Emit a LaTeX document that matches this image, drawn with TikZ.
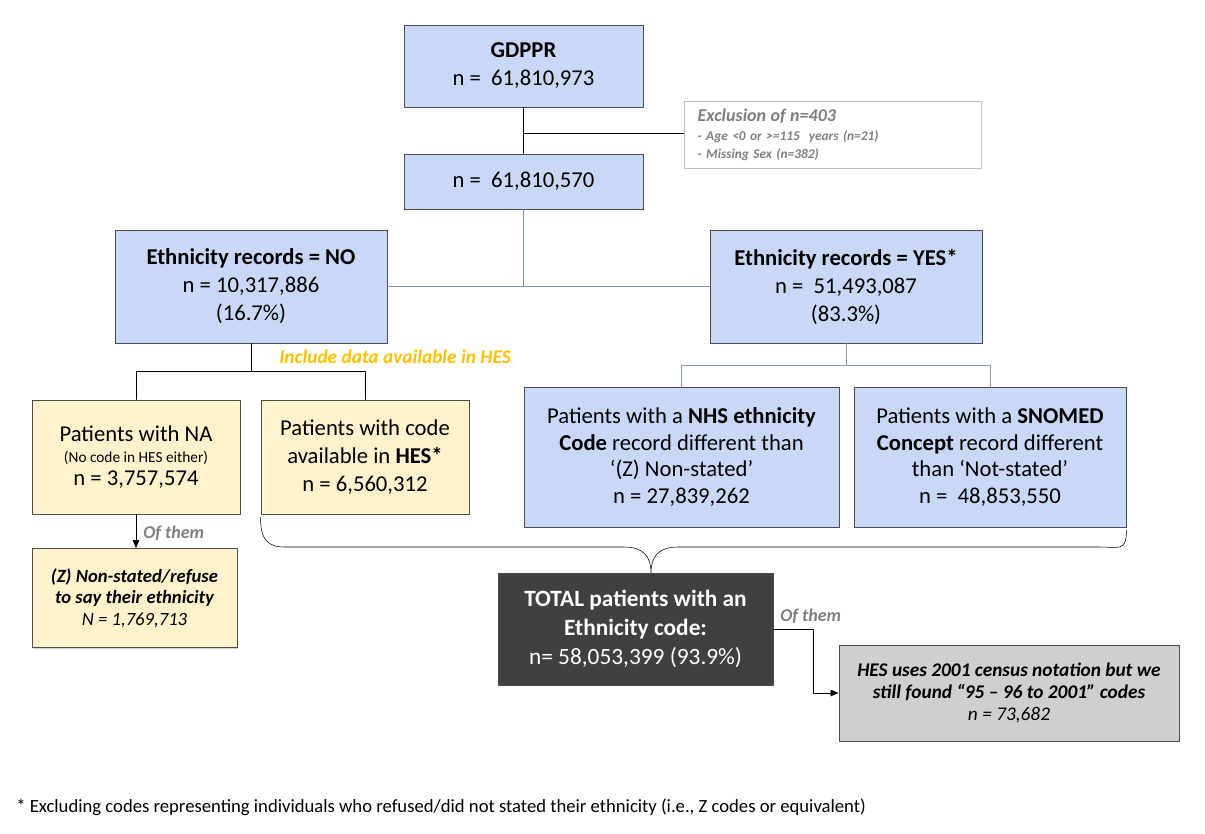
\documentclass[tikz,border=0pt]{standalone}
\usepackage{fontspec}
\setmainfont{Carlito}
\usetikzlibrary{arrows.meta,shadows}
\definecolor{boxblue}{RGB}{200,216,246}
\definecolor{boxyellow}{RGB}{255,242,204}
\definecolor{darkbox}{RGB}{64,64,64}
\definecolor{hesgray}{RGB}{208,206,206}
\definecolor{hesorange}{RGB}{255,192,0}
\definecolor{textgray}{RGB}{127,127,127}
\definecolor{exclgray}{RGB}{191,191,191}
\definecolor{linegray}{RGB}{132,151,176}
\begin{document}
\begin{tikzpicture}[x=0.75pt, y=-0.75pt, line cap=round, line join=round,
  box/.style={draw=black!70, line width=0.7pt, align=center, inner sep=0pt,
    drop shadow={shadow xshift=0.9pt, shadow yshift=-0.9pt, opacity=0.35}},
  bluebox/.style={box, fill=boxblue},
  yellowbox/.style={box, fill=boxyellow},
  main/.style={font=\fontsize{17}{21}\selectfont},
  ofthem/.style={anchor=west, inner sep=0pt, text=textgray,
    font=\fontsize{13.5}{16}\selectfont\bfseries\itshape},
  tip/.style={-{Triangle[length=6pt,width=5pt]}}]
  \useasboundingbox (0,0) rectangle (1205,833);

  % Boxes of the upper part
  \node[bluebox, main, minimum width=179.25pt, minimum height=61.5pt] (gdppr) at (523.5,66)
    {\textbf{GDPPR}\\n = \ 61,810,973};
  \node[bluebox, main, minimum width=179.25pt, minimum height=41.25pt] (ncount) at (523.5,181.5)
    {n = \ 61,810,570};
  \node[draw=exclgray, fill=white, line width=0.8pt, minimum height=50.25pt, text width=203pt,
    inner xsep=10pt, align=left, text=textgray, font=\fontsize{10}{14}\selectfont\bfseries\itshape] (excl) at (833,135)
    {{\fontsize{13.5}{14}\selectfont Exclusion of n=403}\\- Age <0 or >=115~ years (n=21)\\- Missing Sex (n=382)};

  % Ethnicity records
  \node[bluebox, main, minimum width=204pt, minimum height=84.75pt] (no) at (251,286.5)
    {\textbf{Ethnicity records = NO}\\n = 10,317,886\\(16.7\%)};
  \node[bluebox, main, minimum width=204pt, minimum height=84.75pt] (yes) at (846,286.5)
    {\textbf{Ethnicity records = YES*}\\n = \ 51,493,087\\(83.3\%)};

  % Left branch
  \node[yellowbox, minimum width=156pt, minimum height=85.5pt] (na) at (136,457)
    {{\fontsize{17}{21}\selectfont Patients with NA}\\[4pt]{\fontsize{11.5}{14}\selectfont (No code in HES either)}\\[4pt]{\fontsize{17}{21}\selectfont n = 3,757,574}};
  \node[yellowbox, main, minimum width=156pt, minimum height=85.5pt] (hescode) at (365,457)
    {Patients with code\\available in \textbf{HES*}\\n = 6,560,312};
  \node[yellowbox, minimum width=153.75pt, minimum height=74.25pt,
    font=\fontsize{14}{16}\selectfont\itshape] (zbox) at (134.5,598)
    {\textbf{(Z) Non-stated/refuse}\\\textbf{to say their ethnicity}\\N = 1,769,713};

  % Right branch
  \node[bluebox, font=\fontsize{17}{20}\selectfont, minimum width=236.25pt, minimum height=105pt] (nhs) at (681.5,457)
    {Patients with a \textbf{NHS ethnicity}\\\textbf{Code} record different than\\‘(Z) Non-stated’\\n = 27,839,262};
  \node[bluebox, font=\fontsize{17}{20}\selectfont, minimum width=204pt, minimum height=105pt] (snomed) at (990,457)
    {Patients with a \textbf{SNOMED}\\\textbf{Concept} record different\\than ‘Not-stated’\\n = \ 48,853,550};

  % Total
  \node[box, fill=darkbox, text=white, font=\fontsize{17.5}{21.5}\selectfont, minimum width=206.25pt, minimum height=84pt] (total) at (635.5,629)
    {\textbf{TOTAL patients with an}\\\textbf{Ethnicity code:}\\n= 58,053,399 (93.9\%)};
  \node[box, fill=hesgray, minimum width=255pt, minimum height=72pt,
    font=\fontsize{14.5}{16.5}\selectfont\itshape] (hesbox) at (1009,693)
    {\textbf{HES uses 2001 census notation but we}\\\textbf{still found “95 – 96 to 2001” codes}\\n = 73,682};

  % Labels
  \node[anchor=west, inner sep=0pt, text=hesorange, font=\fontsize{14.5}{16}\selectfont\bfseries\itshape] (inclhes) at (279,357)
    {Include data available in HES};
  \node[ofthem] (ofthemz) at (143,533) {Of them};
  \node[ofthem] (ofthemhes) at (780,616) {Of them};
  \node[anchor=west, inner sep=0pt, font=\fontsize{14}{16}\selectfont] (note) at (16,807)
    {* Excluding codes representing individuals who refused/did not stated their ethnicity (i.e., Z codes or equivalent)};

  % Connectors
  \draw (gdppr.south) -- (ncount.north);
  \draw (gdppr.south |- 0,133) -- (excl.west |- 0,133);
  \draw[linegray] (ncount.south) -- (ncount.south |- no.east);
  \draw[linegray, line width=0.8pt] (no.east) -- (yes.west);
  \draw (no.south) -- ++(0,28) coordinate (nosplit);
  \draw (na.north) |- (nosplit) -| (hescode.north);
  \draw[linegray] (yes.south) -- ++(0,22) coordinate (yessplit);
  \draw[linegray] (nhs.north) |- (yessplit) -| (snomed.north);
  \draw[tip] (na.south) -- (na.south |- zbox.north);
  \draw[tip] (total.east) -- ++(40,0) |- (hesbox.west);

  % Brace
  \coordinate (bracetip) at (651,573);
  \draw ([yshift=-2pt]hescode.south west) .. controls +(0,22) and +(-18,0) .. (285,547)
    -- (624,547) .. controls +(20,0) and +(0,-16) .. (bracetip)
    .. controls +(0,-16) and +(-20,0) .. (678,547)
    -- (1100,547) .. controls +(18,0) and +(0,22) .. ([yshift=-2pt]snomed.south east);
\end{tikzpicture}
\end{document}
